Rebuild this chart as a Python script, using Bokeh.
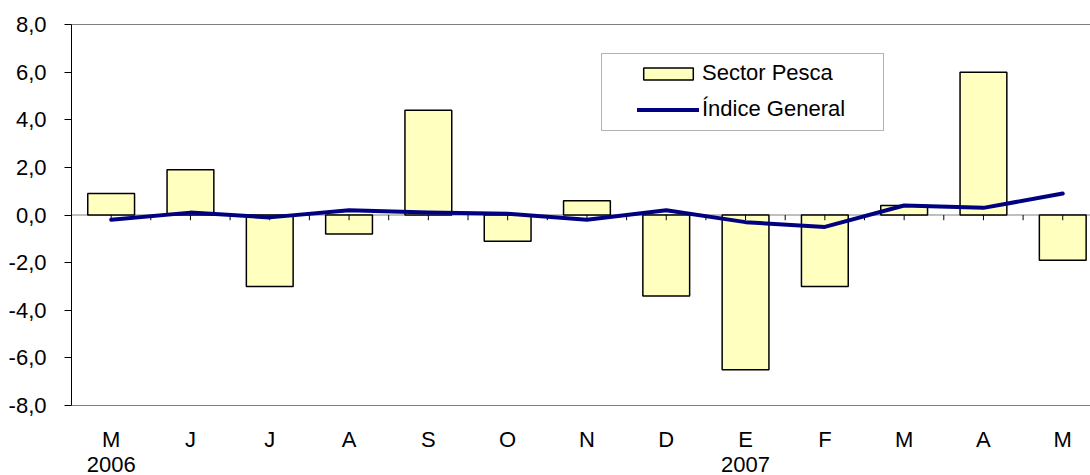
import numpy as np
from bokeh.plotting import figure
from bokeh.models import (Range1d, FixedTicker, LinearAxis, Legend, LegendItem,
                          Span, BoxAnnotation, ColumnDataSource)
from bokeh.embed import file_html
from bokeh.resources import INLINE

# ---- data ----
months = ["M", "J", "J", "A", "S", "O", "N", "D", "E", "F", "M", "A", "M"]
years = ["2006", "2007"]
year_index = [0, 8]
sector_pesca = [0.9, 1.9, -3.0, -0.8, 4.4, -1.1, 0.6, -3.4, -6.5, -3.0, 0.4, 6.0, -1.9]
indice_general = [-0.2, 0.1, -0.1, 0.2, 0.1, 0.05, -0.2, 0.2, -0.3, -0.5, 0.4, 0.3, 0.9]
y_ticks = [-8, -6, -4, -2, 0, 2, 4, 6, 8]
y_tick_labels = ["-8,0", "-6,0", "-4,0", "-2,0", "0,0", "2,0", "4,0", "6,0", "8,0"]

FONT = "Liberation Sans"
FS = "22px"

x = list(range(len(months)))
src = ColumnDataSource(dict(x=x, pesca=sector_pesca, general=indice_general))

p = figure(width=1090, height=475,
           x_range=Range1d(-0.5, 12.35), y_range=Range1d(-8, 8),
           output_backend="svg", toolbar_location=None,
           min_border_left=71, min_border_right=0, min_border_top=24,
           min_border_bottom=70)
p.outline_line_color = None
p.xgrid.visible = False
p.ygrid.visible = False
p.background_fill_color = "white"
p.border_fill_color = "white"

# y axis
ya = p.yaxis[0]
ya.ticker = FixedTicker(ticks=y_ticks)
ya.major_label_overrides = {t: l for t, l in zip(y_ticks, y_tick_labels)}
ya.axis_line_color = "black"
ya.major_tick_line_color = "black"
ya.major_tick_out = 7
ya.major_tick_in = 0
ya.minor_tick_line_color = None
ya.major_label_standoff = 18
ya.major_label_text_font = FONT
ya.major_label_text_font_size = FS
ya.major_label_text_color = "black"

# x axis (months)
xa = p.xaxis[0]
xa.ticker = FixedTicker(ticks=x)
xa.major_label_overrides = {i: m for i, m in zip(x, months)}
xa.axis_line_color = None
xa.major_tick_line_color = None
xa.minor_tick_line_color = None
xa.major_label_standoff = 15
xa.major_label_text_font = FONT
xa.major_label_text_font_size = FS
xa.major_label_text_color = "black"

# second axis (years)
ya2 = LinearAxis(ticker=FixedTicker(ticks=year_index),
                 major_label_overrides={i: y for i, y in zip(year_index, years)})
ya2.axis_line_color = None
ya2.major_tick_line_color = None
ya2.minor_tick_line_color = None
ya2.major_label_standoff = -4
ya2.major_label_text_font = FONT
ya2.major_label_text_font_size = FS
ya2.major_label_text_color = "black"
p.add_layout(ya2, "below")

# frame lines
p.add_layout(Span(location=0, dimension="width", line_color="#808080", line_width=1, level="underlay"))
p.add_layout(Span(location=y_ticks[-1], dimension="width", line_color="black", line_width=1))
p.add_layout(Span(location=y_ticks[0], dimension="width", line_color="black", line_width=1))

bars = p.vbar(x="x", top="pesca", bottom=0, width=0.59, source=src,
              fill_color="#FFFFC0", line_color="black", line_width=1.5)

# small ticks on the zero line
tick_x = np.arange(len(months) * 2 + 1) / 2 - 0.5
p.segment(x0=tick_x, y0=0, x1=tick_x, y1=-0.22, line_color="black", line_width=1)

line = p.line(x="x", y="general", source=src, line_color="#000080", line_width=4,
              line_join="round", line_cap="round")

# legend box
p.add_layout(BoxAnnotation(left=530, right=812, top=352, bottom=275,
                           left_units="screen", right_units="screen",
                           top_units="screen", bottom_units="screen",
                           fill_color="white", fill_alpha=1,
                           line_color="black", line_width=1, level="annotation"))

legend = Legend(items=[LegendItem(label="Sector Pesca", renderers=[bars]),
                       LegendItem(label="Índice General", renderers=[line])],
                location=(559, 276), orientation="vertical",
                border_line_alpha=0, background_fill_alpha=0,
                padding=7, spacing=10, margin=0,
                glyph_width=62, glyph_height=15, label_height=26,
                label_standoff=3,
                label_text_font=FONT, label_text_font_size=FS,
                label_text_color="black")
p.add_layout(legend)

open("out.html", "w").write(file_html(p, INLINE))
